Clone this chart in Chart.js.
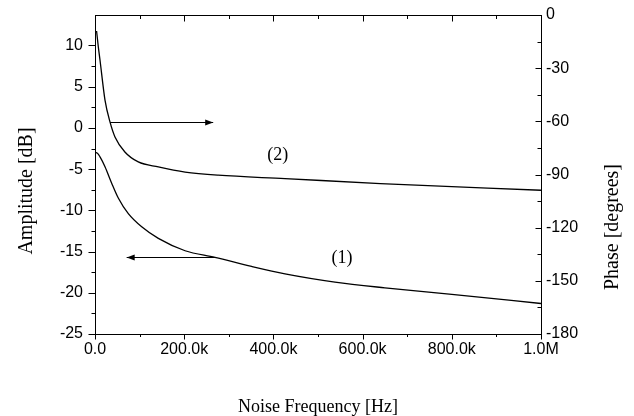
<!DOCTYPE html>
<html>
<head>
<meta charset="utf-8">
<script src="https://cdn.jsdelivr.net/npm/chart.js@4.4.0/dist/chart.umd.min.js"></script>
<style>
  html, body { margin: 0; padding: 0; background: #fff; }
</style>
</head>
<body>
<canvas id="chart" width="634" height="416"></canvas>
<script>
// Values
const ampFreq = [0, 3000, 11200, 22400, 37400, 52200, 74700, 104700, 142000, 202000, 269000, 351000, 426000, 538000, 650000, 800000, 1000000];
const ampDb = [-3.1, -3.0, -3.5, -4.7, -6.7, -8.5, -10.4, -12.0, -13.4, -14.9, -15.7, -16.8, -17.7, -18.7, -19.4, -20.2, -21.3];
const phaseFreq = [3500, 7400, 11200, 22400, 33600, 44800, 67000, 97000, 142000, 202000, 276000, 426000, 640000, 1000000];
const phaseDeg = [-9, -17.9, -25.4, -48, -60.3, -68.8, -77.3, -82.9, -85.7, -88.6, -90.4, -92.3, -95.1, -98.9];

// Axis ticks
const xTicks = [0, 200000, 400000, 600000, 800000, 1000000];
const xTickLabels = ['0.0', '200.0k', '400.0k', '600.0k', '800.0k', '1.0M'];
const ampTicks = [-25, -20, -15, -10, -5, 0, 5, 10];
const phaseTicks = [-180, -150, -120, -90, -60, -30, 0];

// Arrows: [from freq, to freq, level]
const ampArrow = [269000, 71000, -15.7];
const phaseArrow = [33600, 265000, -60.3];
// Curve labels: [text, freq, level]
const ampLabel = ['(1)', 554000, -15.8];
const phaseLabel = ['(2)', 410000, -79];

function mids(arr) {
  const out = [];
  for (let i = 0; i < arr.length - 1; i++) out.push((arr[i] + arr[i + 1]) / 2);
  return out;
}

function line(ctx, x1, y1, x2, y2) {
  ctx.beginPath();
  ctx.moveTo(x1, y1);
  ctx.lineTo(x2, y2);
  ctx.stroke();
}

function arrow(ctx, xs, ys, spec) {
  const x1 = xs.getPixelForValue(spec[0]);
  const x2 = xs.getPixelForValue(spec[1]);
  const yy = Math.round(ys.getPixelForValue(spec[2])) + 0.5;
  line(ctx, x1, yy, x2, yy);
  const dir = x2 > x1 ? 1 : -1;
  ctx.beginPath();
  ctx.moveTo(x2, yy);
  ctx.lineTo(x2 - dir * 8, yy - 3);
  ctx.lineTo(x2 - dir * 8, yy + 3);
  ctx.closePath();
  ctx.fill();
}

// Frame, inner/outer tick marks, arrows and text annotations
const framePlugin = {
  id: 'frame',
  afterDatasetsDraw(chart) {
    const { ctx, chartArea: a, scales: { x, y, y2 } } = chart;
    const L = a.left + 0.5, R = a.right + 0.5, T = a.top + 0.5, B = a.bottom + 0.5;
    ctx.save();
    ctx.strokeStyle = '#000';
    ctx.fillStyle = '#000';
    ctx.lineWidth = 1;
    ctx.strokeRect(L, T, R - L, B - T);

    xTicks.forEach(v => {
      const px = Math.round(x.getPixelForValue(v)) + 0.5;
      line(ctx, px, B, px, B + 5);
      line(ctx, px, T, px, T + 6);
    });
    mids(xTicks).forEach(v => {
      const px = Math.round(x.getPixelForValue(v)) + 0.5;
      line(ctx, px, B, px, B + 2.5);
      line(ctx, px, T, px, T + 3.5);
    });
    ampTicks.forEach(v => {
      const py = Math.round(y.getPixelForValue(v)) + 0.5;
      line(ctx, L, py, L - 7, py);
    });
    mids(ampTicks).forEach(v => {
      const py = Math.round(y.getPixelForValue(v)) + 0.5;
      line(ctx, L, py, L - 4, py);
    });
    phaseTicks.forEach(v => {
      const py = Math.round(y2.getPixelForValue(v)) + 0.5;
      line(ctx, R, py, R - 6, py);
    });
    mids(phaseTicks).forEach(v => {
      const py = Math.round(y2.getPixelForValue(v)) + 0.5;
      line(ctx, R, py, R - 4, py);
    });

    arrow(ctx, x, y, ampArrow);
    arrow(ctx, x, y2, phaseArrow);

    ctx.font = '18px "Liberation Serif"';
    ctx.textAlign = 'center';
    ctx.textBaseline = 'middle';
    ctx.fillText(ampLabel[0], x.getPixelForValue(ampLabel[1]), y.getPixelForValue(ampLabel[2]));
    ctx.fillText(phaseLabel[0], x.getPixelForValue(phaseLabel[1]), y2.getPixelForValue(phaseLabel[2]));

    // vertical axis titles, both reading bottom to top
    ctx.font = '20px "Liberation Serif"';
    ctx.save();
    ctx.translate(27, 191);
    ctx.rotate(-Math.PI / 2);
    ctx.fillText('Amplitude [dB]', 0, 0);
    ctx.restore();
    ctx.save();
    ctx.translate(613, 227);
    ctx.rotate(-Math.PI / 2);
    ctx.fillText('Phase [degrees]', 0, 0);
    ctx.restore();

    ctx.restore();
  }
};

const tickFont = { family: 'Liberation Sans', size: 16 };

// fixed axis widths, no label overhang so the plot box lands where the figure has it
function fixVertical(width) {
  return (s) => {
    s.width = width;
    s.paddingTop = 0;
    s.paddingBottom = 0;
  };
}

const ctx = document.getElementById('chart').getContext('2d');
new Chart(ctx, {
  type: 'line',
  data: {
    datasets: [
      {
        label: 'Amplitude',
        data: ampFreq.map((f, i) => ({ x: f, y: ampDb[i] })),
        yAxisID: 'y',
        borderColor: '#000',
        borderWidth: 1.3,
        pointRadius: 0,
        cubicInterpolationMode: 'monotone',
        fill: false,
      },
      {
        label: 'Phase',
        data: phaseFreq.map((f, i) => ({ x: f, y: phaseDeg[i] })),
        yAxisID: 'y2',
        borderColor: '#000',
        borderWidth: 1.3,
        pointRadius: 0,
        cubicInterpolationMode: 'monotone',
        fill: false,
      },
    ],
  },
  options: {
    responsive: false,
    animation: false,
    layout: { autoPadding: false, padding: { top: 15, left: 0, right: 0, bottom: 0 } },
    plugins: { legend: { display: false }, tooltip: { enabled: false } },
    scales: {
      x: {
        type: 'linear',
        position: 'bottom',
        min: 0,
        max: 1000000,
        grid: { display: false, drawTicks: false },
        border: { display: false },
        afterBuildTicks: (s) => { s.ticks = xTicks.map(v => ({ value: v })); },
        afterFit: (s) => { s.height = 82; s.paddingLeft = 0; s.paddingRight = 0; },
        ticks: {
          callback: (v) => xTickLabels[xTicks.indexOf(v)],
          font: tickFont,
          color: '#000',
          padding: 6,
          maxRotation: 0,
          autoSkip: false,
        },
        title: {
          display: true,
          text: 'Noise Frequency [Hz]',
          font: { family: 'Liberation Serif', size: 18 },
          color: '#000',
          padding: { top: 0, bottom: -2 },
        },
      },
      y: {
        position: 'left',
        min: -25,
        max: 13.7,
        grid: { display: false, drawTicks: false },
        border: { display: false },
        afterBuildTicks: (s) => { s.ticks = ampTicks.map(v => ({ value: v })); },
        afterFit: fixVertical(95),
        ticks: { font: tickFont, color: '#000', padding: 12 },
      },
      y2: {
        position: 'right',
        min: -180,
        max: 0,
        grid: { display: false, drawTicks: false },
        border: { display: false },
        afterBuildTicks: (s) => { s.ticks = phaseTicks.map(v => ({ value: v })); },
        afterFit: fixVertical(93),
        ticks: { font: tickFont, color: '#000', padding: 5 },
      },
    },
  },
  plugins: [framePlugin],
});
</script>
</body>
</html>
